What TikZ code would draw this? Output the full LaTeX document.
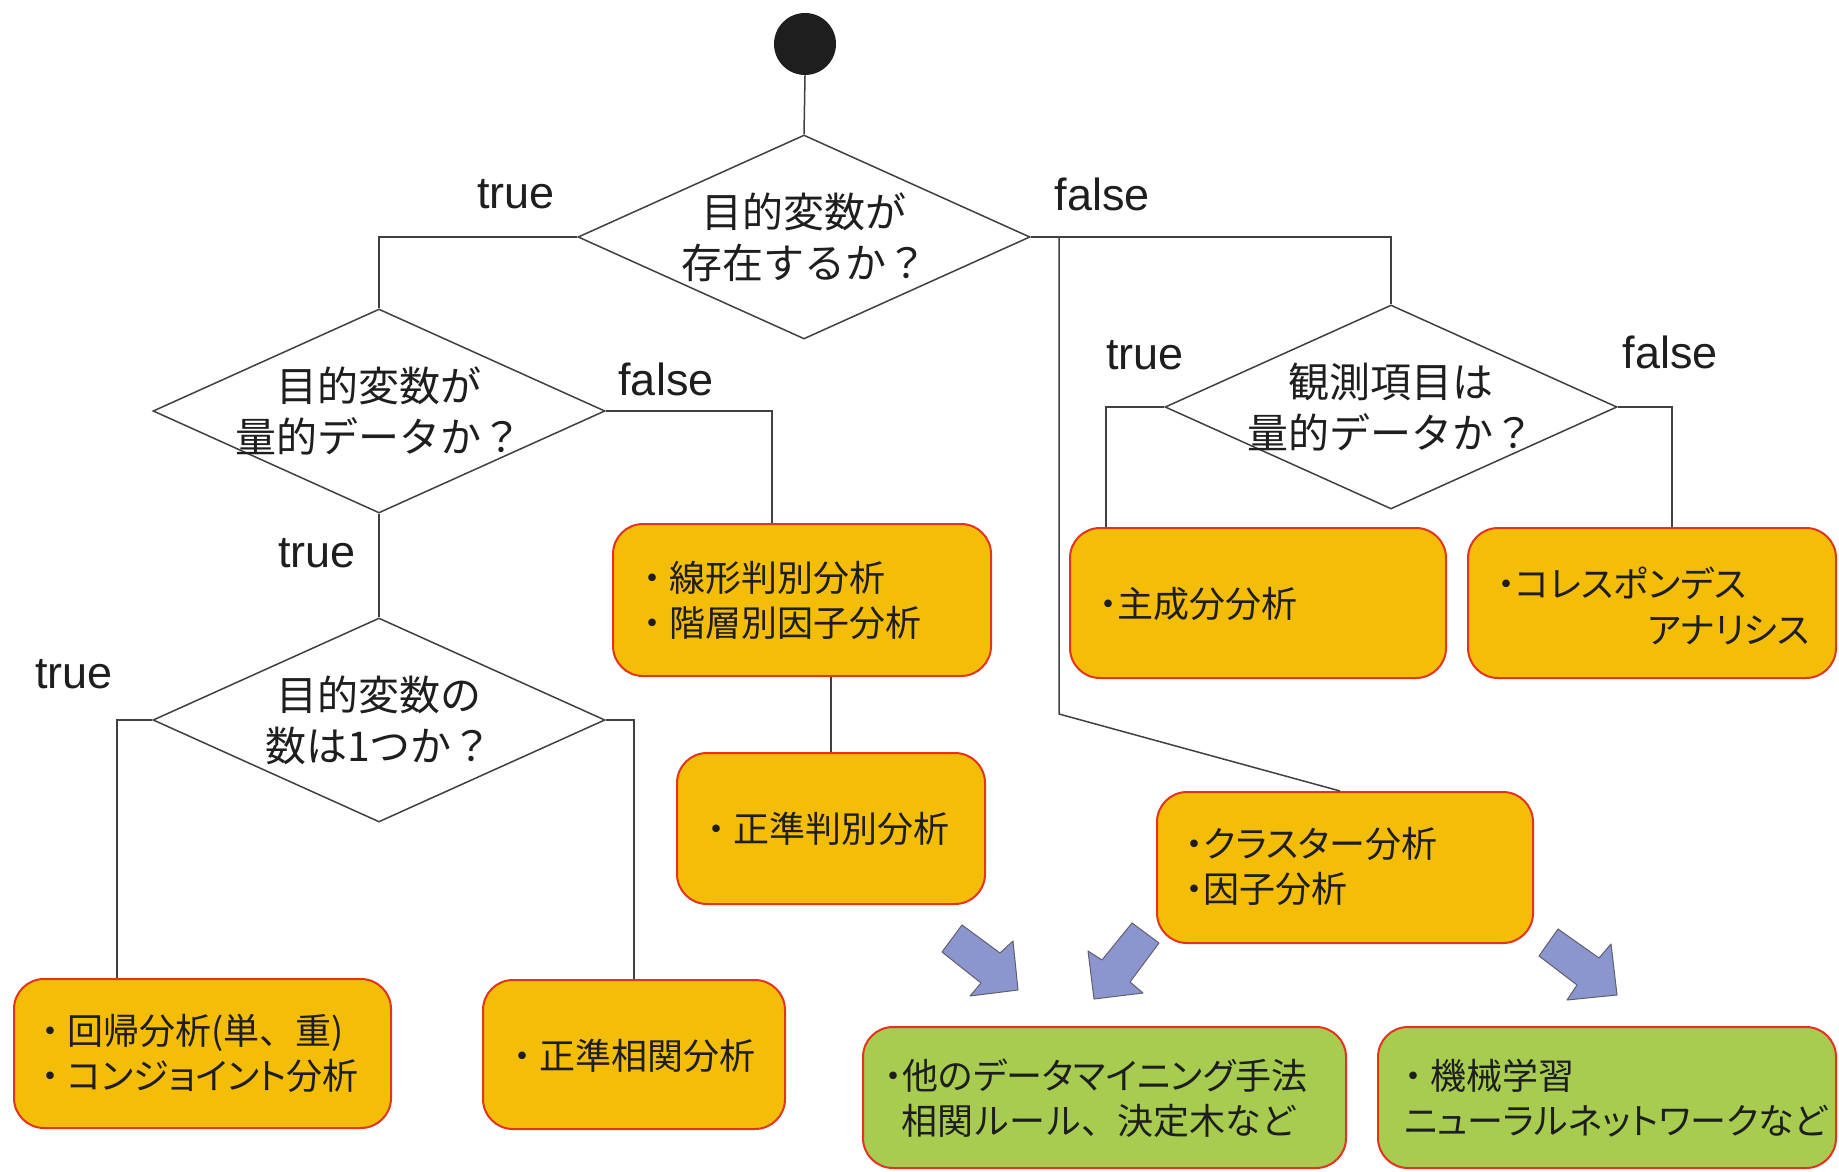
\documentclass[tikz,border=0pt]{standalone}
\usepackage{fontspec}
\setmainfont{Liberation Sans}
\newfontfamily\jp{Noto Sans CJK JP}
\newfontfamily\jpp[RawFeature=+palt]{Noto Sans CJK JP}
\usetikzlibrary{shapes.geometric,calc}
\definecolor{boxor}{RGB}{243,189,8}
\definecolor{boxgr}{RGB}{168,204,80}
\definecolor{boxred}{RGB}{228,52,30}
\definecolor{arrfill}{RGB}{140,150,206}
\definecolor{arredge}{RGB}{95,95,110}
\definecolor{ink}{RGB}{30,30,30}
\begin{document}
\begin{tikzpicture}[x=0.5pt,y=-0.5pt,
  conn/.style={draw=ink!85, line width=0.75pt},
  dia/.style={diamond, draw=ink!85, line width=0.75pt, fill=white, inner sep=0pt,
    minimum width=226pt, minimum height=102pt, aspect=2.216},
  dtext/.style={font=\jp\fontsize{20.5pt}{25.5pt}\selectfont, align=center, text=ink, inner sep=0pt},
  obox/.style={draw=boxred, line width=1pt, rounded corners=15pt, fill=boxor, inner sep=0pt},
  gbox/.style={obox, fill=boxgr},
  btext/.style={font=\jpp\fontsize{18pt}{22.5pt}\selectfont, align=left, anchor=west, text=ink, inner sep=0pt},
  lbl/.style={font=\fontsize{22.5pt}{26pt}\selectfont, text=ink, inner sep=0pt},
  barrow/.style={fill=arrfill, draw=arredge, line width=0.5pt, line join=round}]
\fill[white] (0,0) rectangle (1839,1171);
\useasboundingbox (0,0) rectangle (1839,1171);

% start
\node[circle, fill=ink, minimum size=31pt, inner sep=0pt] (start) at (805,44) {};

% decisions
\node[dia] (d1) at (804,237) {};
\node[dia] (d2) at (379,411) {};
\node[dia] (d3) at (379,720) {};
\node[dia] (d4) at (1391,407) {};
\node[dtext] (t1) at (d1) {目的変数が\\存在するか？};
\node[dtext] (t2) at (d2) {目的変数が\\量的データか？};
\node[dtext] (t3) at (d3) {目的変数の\\数は1つか？};
\node[dtext] (t4) at (d4) {観測項目は\\量的データか？};

% result boxes
\node[obox, minimum width=189pt, minimum height=76pt] (B1) at (802,600) {};
\node[obox, minimum width=154pt, minimum height=75.5pt] (B2) at (831,828.5) {};
\node[obox, minimum width=188.5pt, minimum height=74.5pt] (C1) at (202.5,1053.5) {};
\node[obox, minimum width=151pt, minimum height=74.5pt] (C2) at (634,1054.5) {};
\node[obox, minimum width=188pt, minimum height=75pt] (D1) at (1258,603) {};
\node[obox, minimum width=184pt, minimum height=75pt] (D2) at (1652,603) {};
\node[obox, minimum width=188pt, minimum height=75.5pt] (D3) at (1345,867.5) {};
\node[gbox, minimum width=241.5pt, minimum height=70.5pt] (G1) at (1104.5,1097.5) {};
\node[gbox, minimum width=229pt, minimum height=70.5pt] (G2) at (1607,1097.5) {};

\node[btext] (xB1) at (643,600) {・ 線形判別分析\\・ 階層別因子分析};
\node[btext] (xB2) at (707,829) {・ 正準判別分析};
\node[btext] (xC1) at (41,1053.5) {・ 回帰分析(単{\jp 、}重)\\・ コンジョイント分析};
\node[btext] (xC2) at (513,1056) {・ 正準相関分析};
\node[btext] (xD1) at (1099,604) {・主成分分析};
\node[btext] (xD2a) at (1497,583) {・コレスポンデス};
\node[btext] (xD2b) at (1647,630) {アナリシス};
\node[btext] (xD3) at (1185,866.5) {・クラスター分析\\・因子分析};
\node[btext] (xG1) at (884,1098.5) {・他のデータマイニング手法\\\hspace*{8.5pt}{\jp 相関ルール、決定木など}};
\node[btext] (xG2) at (1404,1098.5) {・ 機械学習\\ニューラルネットワークなど};

% labels
\node[lbl] (l1) at (516,194) {true};
\node[lbl] (l2) at (1102,194) {false};
\node[lbl] (l3) at (666,379) {false};
\node[lbl] (l4) at (317,553) {true};
\node[lbl] (l5) at (74,674) {true};
\node[lbl] (l6) at (1145,355) {true};
\node[lbl] (l7) at (1670,352) {false};

% helper x positions
\coordinate (jB1) at (772,0);
\coordinate (jC1) at (117,0);
\coordinate (jD1) at (1106,0);
\coordinate (jD2) at (1672,0);
\coordinate (kx) at (1059,714);

% connectors
\draw[conn] (start.south) -- (d1.north);
\draw[conn] (d1.west) -| (d2.north);
\draw[conn] (d1.east) -| (d4.north);
\draw[conn] (d1.east -| kx) -- (kx) -- ([xshift=-2.5pt]D3.north);
\draw[conn] (d2.east) -| (B1.north -| jB1);
\draw[conn] (B2.north |- B1.south) -- (B2.north);
\draw[conn] (d2.south) -- (d3.north);
\draw[conn] (d3.west) -| (C1.north -| jC1);
\draw[conn] (d3.east) -| (C2.north);
\draw[conn] (d4.west) -| (D1.north -| jD1);
\draw[conn] (d4.east) -| (D2.north -| jD2);

% block arrows
\draw[barrow] (942,952) -- (962,925) -- (1000,953) -- (1013,941) -- (1018,990) -- (970,996) -- (981,983) -- cycle;
\draw[barrow] (1132,923) -- (1159,943) -- (1130,982) -- (1143,993) -- (1094,999) -- (1088,951) -- (1102,960) -- cycle;
\draw[barrow] (1558,929) -- (1599,958) -- (1611,944) -- (1617,995) -- (1567,1000) -- (1577,985) -- (1539,956) -- cycle;
\end{tikzpicture}
\end{document}
